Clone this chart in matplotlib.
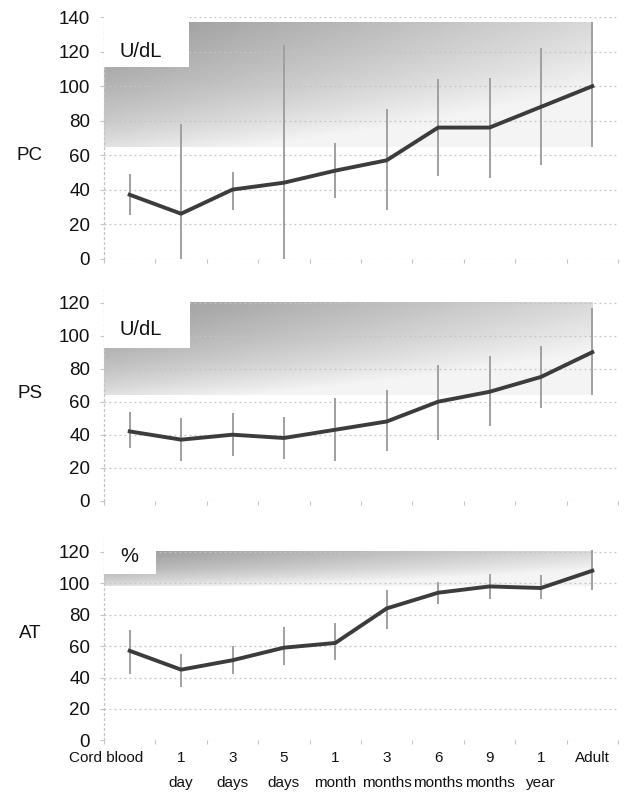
import numpy as np
import matplotlib
matplotlib.use("Agg")
import matplotlib.pyplot as plt
from matplotlib.patches import Rectangle
from matplotlib.transforms import ScaledTranslation

plt.rcParams['font.family'] = ['Liberation Sans', 'DejaVu Sans']

categories = ["Cord blood", "1\nday", "3\ndays", "5\ndays", "1\nmonth", "3\nmonths",
              "6\nmonths", "9\nmonths", "1\nyear", "Adult"]

# PC (U/dL)
pc_mean = [37, 26, 40, 44, 51, 57, 76, 76, 88, 100]
pc_low  = [25, 0, 28, 0, 35, 28, 48, 47, 54, 65]
pc_high = [49, 78, 50, 124, 67, 87, 104, 105, 122, 137]
# PS (U/dL)
ps_mean = [42, 37, 40, 38, 43, 48, 60, 66, 75, 90]
ps_low  = [32, 24, 27, 25, 24, 30, 37, 45, 56, 64]
ps_high = [54, 50, 53, 51, 62, 67, 82, 88, 94, 117]
# AT (%)
at_mean = [57, 45, 51, 59, 62, 84, 94, 98, 97, 108]
at_low  = [42, 34, 42, 48, 51, 71, 87, 90, 90, 96]
at_high = [70, 55, 60, 72, 75, 96, 101, 106, 105, 121]

# reference ranges (shaded) and label boxes
panels = [
    dict(name="PC", unit="U/dL", mean=pc_mean, low=pc_low, high=pc_high,
         ymax=140, ticks=[0, 20, 40, 60, 80, 100, 120, 140],
         ref=(65, 137), box_right=1.15, box_bottom=111, unit_y=120,
         rect=(104, 17.3, 618, 258.5), label_y=155),
    dict(name="PS", unit="U/dL", mean=ps_mean, low=ps_low, high=ps_high,
         ymax=130, ticks=[0, 20, 40, 60, 80, 100, 120],
         ref=(64, 120), box_right=1.17, box_bottom=92.5, unit_y=104,
         rect=(104, 286.2, 618, 500.7), label_y=393),
    dict(name="AT", unit="%", mean=at_mean, low=at_low, high=at_high,
         ymax=130, ticks=[0, 20, 40, 60, 80, 100, 120],
         ref=(98, 120), box_right=0.52, box_bottom=105.7, unit_y=117,
         rect=(104, 536.2, 618, 740.3), label_y=633),
]

W, H = 626, 795
fig = plt.figure(figsize=(W / 100, H / 100), dpi=100)

x = np.arange(len(categories))
grid_c = "#c4c4c4"

for i, p in enumerate(panels):
    x0, ytop, x1, ybot = p["rect"]
    ax = fig.add_axes([x0 / W, 1 - ybot / H, (x1 - x0) / W, (ybot - ytop) / H])
    ax.set_xlim(-0.5, 9.5)
    ax.set_ylim(0, p["ymax"])

    # gradient shading for reference range
    lo, hi = p["ref"]
    nx, ny = 200, 60
    xf = np.linspace(0, 1, nx)[None, :]
    yf = np.linspace(1, 0, ny)[:, None]  # row 0 = top
    g = 0.60 + 0.25 * xf + 0.18 * (1 - yf) + 0.10 * (1 - yf) ** 3
    g = np.clip(g, 0, 0.96)
    img = np.dstack([g, g, g])
    ax.imshow(img, extent=[-0.5, 9.0, lo, hi], aspect="auto", origin="upper",
              interpolation="bilinear", zorder=1)

    # grid
    for t in p["ticks"]:
        ax.axhline(t, color=grid_c, lw=0.9, ls=(0, (1.5, 2.5)), zorder=2)

    # white label box
    ax.add_patch(Rectangle((-0.5, p["box_bottom"]), p["box_right"] + 0.5,
                           p["ymax"] - p["box_bottom"] + 5, facecolor="white",
                           edgecolor="none", zorder=3))
    ax.text(-0.19, p["unit_y"], p["unit"], fontsize=14.5, ha="left", va="center",
            color="#111111", zorder=6)

    mean = np.array(p["mean"])
    low = np.array(p["low"])
    high = np.array(p["high"])
    ax.errorbar(x, mean, yerr=[mean - low, high - mean], fmt="none",
                ecolor="#a0a0a0", elinewidth=1.4, capsize=0, zorder=4)
    ax.plot(x, mean, color="#3c3c3c", lw=2.8, solid_joinstyle="round", zorder=5)

    for s in ["top", "right", "bottom"]:
        ax.spines[s].set_visible(False)
    ax.spines["left"].set_color(grid_c)
    ax.spines["left"].set_linestyle((0, (1.5, 2.5)))
    ax.spines["left"].set_linewidth(0.9)

    ax.set_yticks(p["ticks"])
    ax.tick_params(axis="y", length=3, color=grid_c, labelsize=13.5, pad=7,
                   labelcolor="#111111")
    ax.set_xticks(x)
    ax.set_xticks(np.arange(-0.5, 10, 1), minor=True)
    ax.tick_params(axis="x", which="minor", length=3, color=grid_c, width=0.8)
    if i < 2:
        ax.tick_params(axis="x", which="major", length=0, labelbottom=False)
    else:
        ax.set_xticklabels(categories, fontsize=11, linespacing=1.95,
                           color="#111111")
        ax.tick_params(axis="x", which="major", length=0, pad=8)
        lbl = ax.get_xticklabels()[0]
        lbl.set_transform(lbl.get_transform() +
                          ScaledTranslation(-0.24, 0, fig.dpi_scale_trans))

    fig.text(30 / W, 1 - p["label_y"] / H, p["name"], fontsize=13.5,
             ha="center", va="center", color="#111111")

fig.savefig("out.png", dpi=100)
